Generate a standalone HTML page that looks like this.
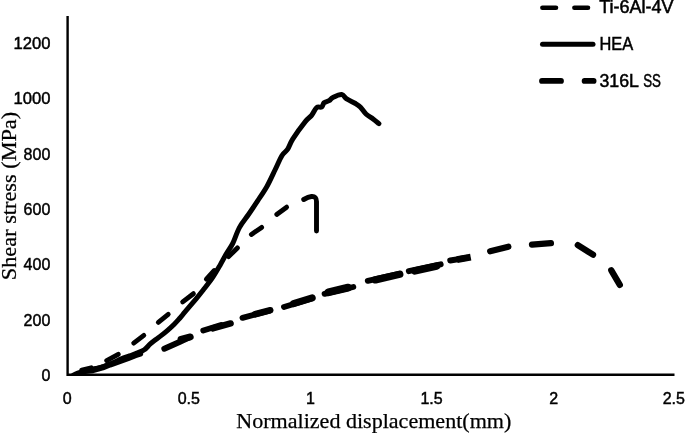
<!DOCTYPE html>
<html><head><meta charset="utf-8"><title>Shear stress vs normalized displacement</title>
<style>
html,body{margin:0;padding:0;background:#fff;}
svg{display:block;}
.tick{font-family:"Liberation Sans",sans-serif;font-size:16px;fill:#000;stroke:#000;stroke-width:0.45px;}
.leg{font-family:"Liberation Sans",sans-serif;font-size:17.6px;fill:#000;stroke:#000;stroke-width:0.5px;}
.ttl{font-family:"Liberation Serif",serif;font-size:22px;fill:#000;stroke:#000;stroke-width:0.25px;}
</style></head>
<body>
<svg width="685" height="433" viewBox="0 0 685 433">
<rect width="685" height="433" fill="#fff"/>
<path d="M67.6 16 V374.7 H674.5" fill="none" stroke="#000" stroke-width="2.4"/>
<g class="tick" text-anchor="end">
<text x="50.6" y="48.6" textLength="37" lengthAdjust="spacingAndGlyphs">1200</text>
<text x="50.6" y="104.1" textLength="37" lengthAdjust="spacingAndGlyphs">1000</text>
<text x="50.3" y="159.6">800</text>
<text x="50.3" y="215">600</text>
<text x="50.3" y="270.4">400</text>
<text x="50.3" y="325.8">200</text>
<text x="50.3" y="380.8">0</text>
</g>
<g class="tick" text-anchor="middle">
<text x="67.2" y="404">0</text>
<text x="188.8" y="404">0.5</text>
<text x="310.4" y="404">1</text>
<text x="431.5" y="404">1.5</text>
<text x="553.6" y="404">2</text>
<text x="673.8" y="404">2.5</text>
</g>
<text class="ttl" x="236.3" y="427.7" textLength="275" lengthAdjust="spacingAndGlyphs">Normalized displacement(mm)</text>
<text class="ttl" transform="translate(16.3 280.2) rotate(-90)" textLength="168.4" lengthAdjust="spacingAndGlyphs">Shear stress (MPa)</text>
<g fill="none" stroke="#000" stroke-linecap="round">
<path d="M542.4 7.7 H556 M574.4 7.7 H588" stroke-width="4.6"/>
<path d="M542.5 44.2 H593" stroke-width="5"/>
<path d="M542 80.9 H561 M584.6 80.9 H593.6" stroke-width="5.8"/>
</g>
<text class="leg" x="599.3" y="13.1" textLength="74.3" lengthAdjust="spacingAndGlyphs">Ti-6Al-4V</text>
<text class="leg" x="599.4" y="49.5" textLength="33.7" lengthAdjust="spacingAndGlyphs">HEA</text>
<text class="leg" y="86.5"><tspan x="599.5" textLength="38.8" lengthAdjust="spacingAndGlyphs">316L</tspan> <tspan x="643.2" textLength="17.8" lengthAdjust="spacingAndGlyphs">SS</tspan></text>
<clipPath id="cp"><rect x="68.8" y="0" width="616.2" height="375.9"/></clipPath>
<g fill="none" stroke="#000" stroke-linecap="round" stroke-linejoin="round" clip-path="url(#cp)">
<g stroke-width="5.9">
<path d="M82.8 371.2 L93.0 370.2 L102.8 367.4 L110.0 364.6 L128.0 358.2 L135.5 355.3 L140.2 353.7"/>
<path d="M164.3 348.7 L180.0 341.7 L189.5 337.3"/>
<path d="M203.3 330.5 L221.0 325.0"/>
<path d="M242.5 317.8 L270.0 310.7"/>
<path d="M284.0 307.0 L311.8 298.5"/>
<path d="M324.6 293.8 L353.3 287.0"/>
<path d="M367.8 280.8 L399.0 273.8"/>
<path d="M408.8 271.2 L440.7 264.3"/>
<path d="M450.2 260.5 L466.5 257.8"/>
<path stroke-width="6.3" d="M490.2 251.2 L508.3 246.7"/>
<path stroke-width="6.3" d="M532.0 244.6 L550.9 243.2"/>
<path stroke-width="6.3" d="M577.8 245.1 L593.0 254.7"/>
<path stroke-width="6.3" d="M611.3 270.3 L619.8 284.9"/>
<path stroke-width="6.9" stroke-linecap="butt" d="M457 259.7 L470.7 257.1"/>
<path stroke-width="6.8" d="M181.0 339.3 L190.3 336.9"/>
<path stroke-width="6.4" d="M212.8 328.4 L230.6 323.4"/>
<path stroke-width="6.4" d="M255.0 314.2 L270.3 310.2"/>
<path stroke-width="7.1" d="M293.5 303.6 L312.2 297.8"/>
<path stroke-width="7.8" d="M328.5 292.3 L348.0 287.6"/>
<path stroke-width="7.3" d="M375.5 279.9 L399.8 274.3"/>
<path stroke-width="7.4" d="M415.0 270.9 L436.5 266.1"/>
</g>
<g stroke-width="4.9">
<path d="M81.8 370.1 L91.2 367.8"/>
<path d="M106.7 360.6 L118.2 354.3"/>
<path d="M133.7 343.1 L143.8 335.4"/>
<path d="M158.3 322.3 L168.2 314.4"/>
<path d="M182.7 301.9 L193.4 293.7"/>
<path d="M206.4 279.1 L214.3 270.5"/>
<path d="M228.6 256.6 L237.4 247.9"/>
<path d="M251.4 234.4 L261.6 227.4"/>
<path d="M276.7 214.4 L286.6 207.2"/>
<path d="M303.7 199.5 C306 198.2 309 196.8 311.5 196.5 C315 196.2 316.5 198 316.5 201.5 L316.5 231"/>
</g>
<path stroke-width="5.0" d="M73.5 375.0 C74.6 374.6 77.2 373.3 80.0 372.4 C82.8 371.5 86.7 370.4 90.0 369.6 C93.3 368.8 96.7 368.5 100.0 367.6 C103.3 366.7 106.4 365.8 110.0 364.3 C113.6 362.9 118.2 360.3 121.4 358.9 C124.7 357.5 126.9 356.9 129.5 355.9 C132.1 354.9 134.4 354.1 136.9 353.1 C139.4 352.1 142.1 351.3 144.3 349.8 C146.5 348.3 148.1 345.9 150.0 344.2 C151.9 342.5 153.6 341.3 155.5 339.8 C157.4 338.3 159.4 337.0 161.4 335.4 C163.4 333.8 165.5 332.1 167.6 330.3 C169.7 328.5 171.9 326.6 174.0 324.5 C176.1 322.4 178.1 320.1 180.0 318.0 C181.9 315.9 182.5 314.9 185.2 311.7 C187.9 308.5 193.1 302.4 196.1 298.8 C199.1 295.2 200.4 293.6 203.2 290.0 C206.0 286.4 209.9 281.6 212.7 277.4 C215.5 273.2 217.9 268.9 220.2 264.9 C222.5 260.9 224.4 257.2 226.5 253.6 C228.6 250.0 230.5 247.8 232.7 243.5 C234.8 239.2 236.8 232.4 239.4 227.6 C242.0 222.8 245.4 219.0 248.5 214.5 C251.6 210.0 254.7 205.4 257.8 200.7 C260.9 196.0 264.0 191.6 266.9 186.5 C269.8 181.4 272.5 175.2 275.0 170.0 C277.5 164.8 279.9 159.0 282.0 155.5 C284.1 152.0 285.9 151.9 287.7 149.2 C289.5 146.5 289.8 143.7 292.7 139.1 C295.6 134.5 302.1 125.6 305.3 121.6 C308.5 117.6 309.7 117.6 311.6 115.3 C313.5 113.0 314.9 109.0 316.6 107.6 C318.3 106.2 320.4 107.8 321.6 107.0 C322.9 106.2 322.9 103.8 324.1 102.7 C325.4 101.7 327.6 101.6 329.1 100.7 C330.6 99.8 330.8 98.4 332.9 97.4 C335.0 96.4 339.4 94.2 341.7 94.5 C344.0 94.8 344.4 97.4 346.7 98.9 C349.0 100.4 353.2 102.1 355.5 103.5 C357.8 104.9 358.8 105.5 360.5 107.2 C362.2 109.0 363.9 112.0 366.0 114.0 C368.1 116.0 371.0 117.4 373.1 119.0 C375.2 120.6 377.9 122.8 378.9 123.6"/>
</g>
</svg>
</body></html>
